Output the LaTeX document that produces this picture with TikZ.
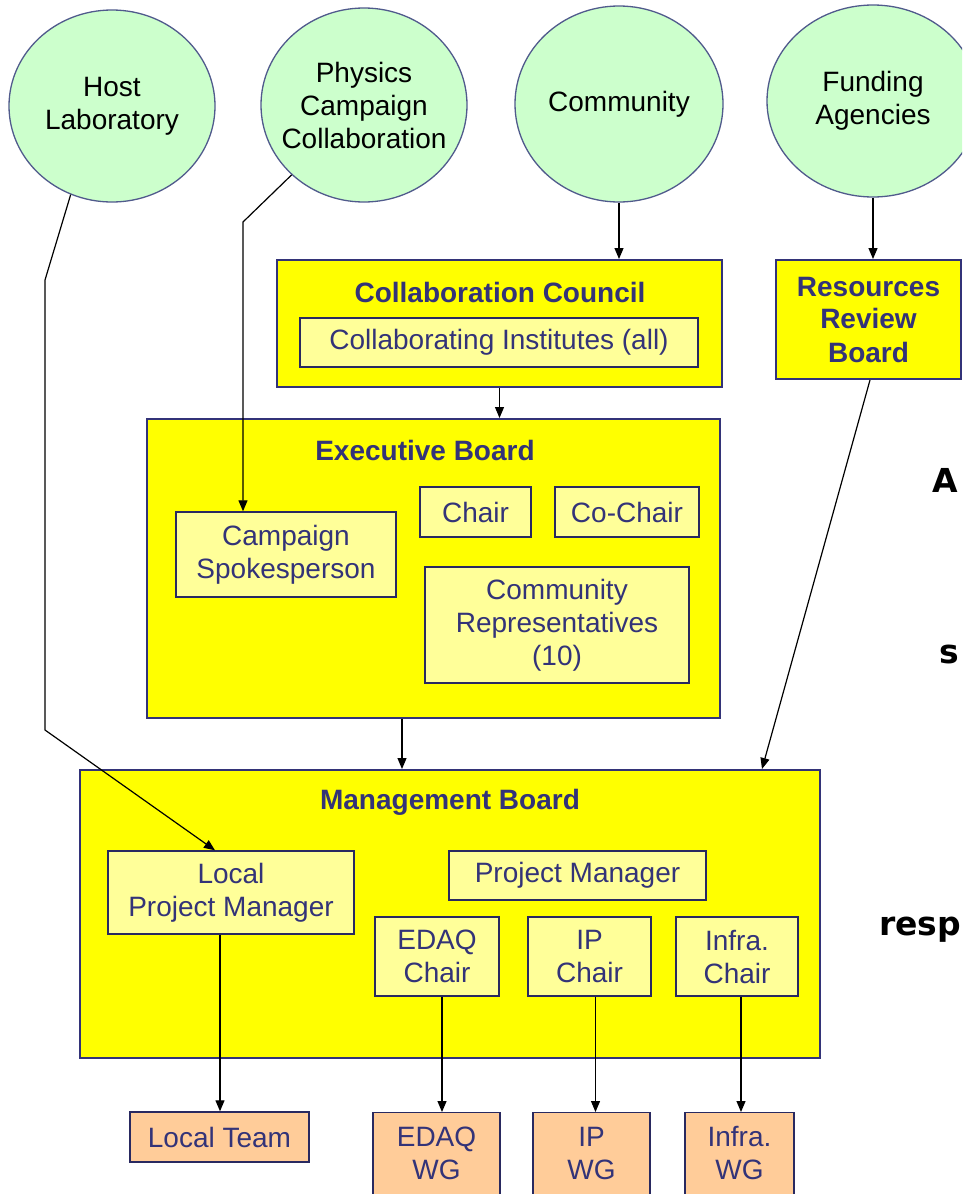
\documentclass[tikz,border=0pt]{standalone}
\usepackage{fontspec}
\setmainfont{Liberation Sans}
\newfontfamily\notefont{DejaVu Sans}
\usetikzlibrary{shapes.geometric,arrows.meta,positioning}

\definecolor{circlegreen}{RGB}{204,255,204}
\definecolor{boardyellow}{RGB}{255,255,0}
\definecolor{roleyellow}{RGB}{255,255,153}
\definecolor{teamorange}{RGB}{255,204,153}
\definecolor{boxnavy}{RGB}{51,51,120}
\definecolor{circleline}{RGB}{80,90,140}

\tikzset{
  party/.style={ellipse, draw=circleline, line width=1.3pt, fill=circlegreen,
    inner sep=-30pt, align=center, font=\fontsize{28}{33}\selectfont},
  board/.style={rectangle, draw=boxnavy, line width=2pt, fill=boardyellow, inner sep=0pt},
  boardtitle/.style={inner sep=0pt, text=boxnavy, font=\fontsize{28}{33}\selectfont\bfseries},
  role/.style={rectangle, draw=boxnavy!80!black, line width=1.4pt, fill=roleyellow,
    inner sep=0pt, align=center, text=boxnavy, font=\fontsize{28}{33}\selectfont},
  team/.style={role, fill=teamorange},
  teamtext/.style={inner sep=0pt, align=center, text=boxnavy, font=\fontsize{28}{33}\selectfont},
  note/.style={inner sep=0pt, font=\notefont\bfseries\fontsize{33}{36}\selectfont},
  link/.style={-{Triangle[length=11pt,width=9pt]}, line width=1.2pt},
}

\begin{document}
\begin{tikzpicture}[x=1pt,y=-1pt]
        \useasboundingbox (0,0) rectangle (962,1194);
        \clip (0,0) rectangle (962,1194);

        % Step 1: outside parties
        \node[party, minimum width=206pt, minimum height=192pt] (host) at (112,106) {Host\\Laboratory};
        \node[party, minimum width=206pt, minimum height=194pt] (phys) at (364,105) {Physics\\Campaign\\Collaboration};
        \node[party, minimum width=208pt, minimum height=196pt] (com) at (619,104) {Community};
        \node[party, minimum width=212pt, minimum height=192pt] (fund) at (873,101) {Funding\\Agencies};

        % Step 2: collaboration council and resources review board
        \node[board, minimum width=445pt, minimum height=127pt] (cc) at (499.5,323.5) {};
        \node[boardtitle] (cctitle) at (500,292) {Collaboration Council};
        \node[role, minimum width=398pt, minimum height=49pt] (inst) at (499,342.5) {Collaborating Institutes (all)};
        \node[board, boardtitle, align=center, minimum width=185pt, minimum height=119pt] (rrb) at (868.5,319.5) {Resources\\Review\\Board};

        % Step 3: executive board
        \node[board, minimum width=573pt, minimum height=299pt] (eb) at (433.5,568.5) {};
        \node[boardtitle] (ebtitle) at (425,450) {Executive Board};
        \node[role, minimum width=220pt, minimum height=85pt] (spk) at (286,554.5) {Campaign\\Spokesperson};
        \node[role, minimum width=111pt, minimum height=50pt] (chair) at (475.5,512) {Chair};
        \node[role, minimum width=144pt, minimum height=50pt] (cochair) at (627,512) {Co-Chair};
        \node[role, minimum width=264pt, minimum height=116pt] (rep) at (557,625) {Community\\Representatives\\(10)};

        % Step 4: management board
        \node[board, minimum width=740pt, minimum height=288pt] (mb) at (450,914) {};
        \node[boardtitle] (mbtitle) at (450,802) {Management Board};
        \node[role, minimum width=246pt, minimum height=83pt] (lpm) at (231,892.5) {Local\\Project Manager};
        \node[role, minimum width=257pt, minimum height=49pt] (pm) at (577.5,875.5) {Project Manager};
        \node[role, minimum width=124pt, minimum height=79pt] (edaq) at (437,956.5) {EDAQ\\Chair};
        \node[role, minimum width=123pt, minimum height=79pt] (ip) at (589.5,956.5) {IP\\Chair};
        \node[role, minimum width=122pt, minimum height=79pt] (infra) at (737,956.5) {Infra.\\Chair};

        % Step 5: teams and working groups
        \node[team, minimum width=179pt, minimum height=50pt] (lt) at (219.5,1137) {Local Team};
        \node[team, anchor=north, minimum width=127pt, minimum height=110pt] (edaqwg) at (436.5,1112) {};
        \node[teamtext] (edaqwgtext) at (436.5,1153) {EDAQ\\WG};
        \node[team, anchor=north, minimum width=117pt, minimum height=110pt] (ipwg) at (591.5,1112) {};
        \node[teamtext] (ipwgtext) at (591.5,1153) {IP\\WG};
        \node[team, anchor=north, minimum width=109pt, minimum height=110pt] (infrawg) at (739.5,1112) {};
        \node[teamtext] (infrawgtext) at (739.5,1153) {Infra.\\WG};

        % Step 6: bends of the long connectors
        \coordinate (hostbend1) at (45,280);
        \coordinate (hostbend2) at (45,730);
        \coordinate (physbend) at (243,222);

        % Step 7: connectors
        \draw[link] (com.south) -- (com.south |- cc.north);
        \draw[link] (fund.south) -- (fund.south |- rrb.north);
        \draw[link] (cc.south) -- (cc.south |- eb.north);
        \draw[link] ([xshift=-31.5pt]eb.south) -- ([xshift=-31.5pt]eb.south |- mb.north);
        \draw[link] ([xshift=1.5pt]rrb.south) -- ([xshift=312pt]mb.north);
        \draw[link] (host.245) -- (hostbend1) -- (hostbend2) -- ([xshift=-16pt]lpm.north);
        \draw[link] (phys.224) -- (physbend) -- (physbend |- spk.north);
        \draw[link] ([xshift=-11pt]lpm.south) -- ([xshift=-11pt]lpm.south |- lt.north);
        \draw[link] ([xshift=5pt]edaq.south) -- ([xshift=5pt]edaq.south |- edaqwg.north);
        \draw[link] ([xshift=6pt]ip.south) -- ([xshift=6pt]ip.south |- ipwg.north);
        \draw[link] ([xshift=4pt]infra.south) -- ([xshift=4pt]infra.south |- infrawg.north);

        % Step 8: cut-off notes at the right edge
        \node[note, anchor=base west] (noteA) at (932,492) {A};
        \node[note, anchor=base west] (notes) at (939,663) {s};
        \node[note, anchor=base west] (noteresp) at (879,935) {resp};
\end{tikzpicture}
\end{document}
